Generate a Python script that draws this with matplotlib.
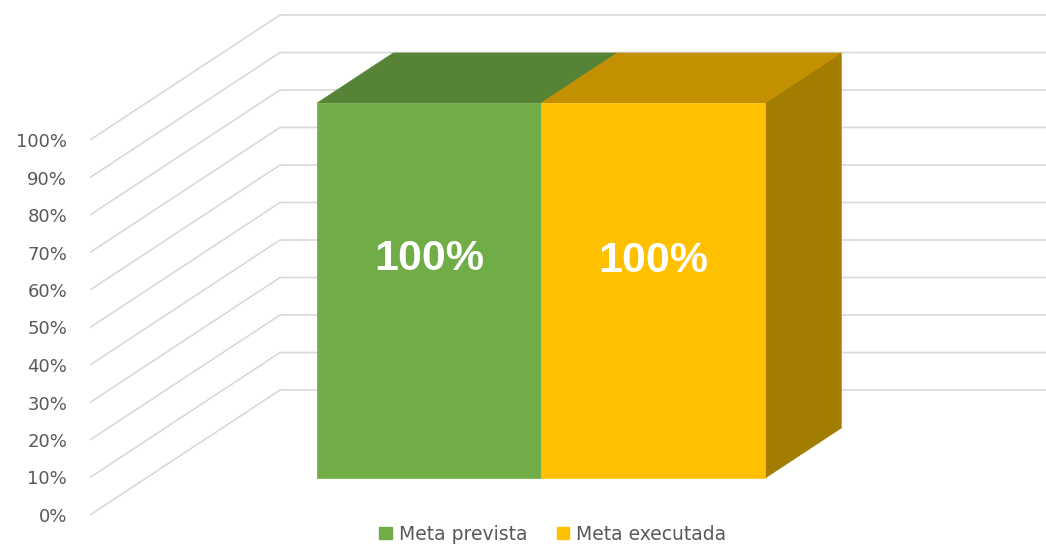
import matplotlib
matplotlib.use("Agg")
import matplotlib.pyplot as plt
from matplotlib.patches import Polygon, Patch
from matplotlib import font_manager as fm

# ---- data ----
series = ["Meta prevista", "Meta executada"]
values = [100, 100]
value_labels = ["100%", "100%"]
y_ticks = [0, 10, 20, 30, 40, 50, 60, 70, 80, 90, 100]
y_tick_labels = ["0%", "10%", "20%", "30%", "40%", "50%", "60%", "70%", "80%", "90%", "100%"]

# ---- styles ----
front_colors = ["#70AD47", "#FFC000"]
top_colors = ["#568335", "#C29000"]
side_colors = ["#41652A", "#A37D00"]
label_offsets = [21, 18]  # pixels above front-face centre
grid_color = "#D9D9D9"
text_color = "#595959"

# find a regular-width bold Arial-like font file
bold_path = None
for f in fm.fontManager.ttflist:
    if f.name == "Liberation Sans" and f.weight in (700, "bold") and f.style == "normal" \
            and "Narrow" not in f.fname:
        bold_path = f.fname
        break
label_font = fm.FontProperties(fname=bold_path, size=31) if bold_path else \
    fm.FontProperties(family="DejaVu Sans", weight="bold", size=29)

W, H = 1046, 546
PX = 3.75                 # pixels per percent
LEFT = 90                 # left edge of floor/gridlines (pixels)
DEPTH_DX = 190            # horizontal offset of back wall
DEPTH_DY = 125 / PX       # vertical offset of back wall (percent units)
Z0, Z1 = 0.296, 0.696     # bar depth range
BAR_LEFT = 261
BAR_W = 224

fig = plt.figure(figsize=(W / 100, H / 100), dpi=100)
ax = fig.add_axes([LEFT / W, 0, (W - LEFT) / W, 1])
ax.set_xlim(LEFT, W)
ax.set_ylim(-31 / PX, 515 / PX)
for s in ax.spines.values():
    s.set_visible(False)
ax.set_xticks([])
ax.set_yticks(y_ticks, y_tick_labels)
ax.tick_params(axis="y", length=0, pad=16.5, labelsize=13, labelcolor=text_color)


def proj(x, y, z):
    return (x + z * DEPTH_DX, y + z * DEPTH_DY)


# gridlines: side wall diagonal + back wall horizontal
for t in y_ticks:
    p0 = proj(LEFT, t, 0)
    p1 = proj(LEFT, t, 1)
    ax.plot([p0[0], p1[0], W], [p0[1], p1[1], p1[1]], color=grid_color,
            lw=1.2, solid_capstyle="butt", zorder=1, clip_on=False)

# bars
n = len(values)
for i, (v, fc, tc, sc) in enumerate(zip(values, front_colors, top_colors, side_colors)):
    x0 = BAR_LEFT + i * BAR_W
    x1 = x0 + BAR_W
    front = [proj(x0, 0, Z0), proj(x1, 0, Z0), proj(x1, v, Z0), proj(x0, v, Z0)]
    top = [proj(x0, v, Z0), proj(x1, v, Z0), proj(x1, v, Z1), proj(x0, v, Z1)]
    side = [proj(x1, 0, Z0), proj(x1, 0, Z1), proj(x1, v, Z1), proj(x1, v, Z0)]
    faces = [(top, tc), (front, fc)]
    if i == n - 1:  # side of inner bars is hidden by the next bar
        faces.insert(0, (side, sc))
    for poly, c in faces:
        ax.add_patch(Polygon(poly, closed=True, facecolor=c, edgecolor=c,
                             lw=0.5, zorder=2 + i))
    cx, cy = proj((x0 + x1) / 2, v / 2, Z0)
    ax.annotate(value_labels[i], (cx, cy), xytext=(0, label_offsets[i]),
                textcoords="offset pixels", ha="center", va="baseline",
                color="white", fontproperties=label_font, zorder=10)

handles = [Patch(facecolor=c, edgecolor=c, label=s) for s, c in zip(series, front_colors)]
leg = fig.legend(handles=handles, loc="center", bbox_to_anchor=(553 / W, 1 - 534 / H),
                 ncol=2, frameon=False, fontsize=13.5, labelcolor=text_color,
                 handlelength=0.65, handleheight=0.65, handletextpad=0.4,
                 columnspacing=1.55, borderpad=0.1)

fig.savefig("out.png", dpi=100)
